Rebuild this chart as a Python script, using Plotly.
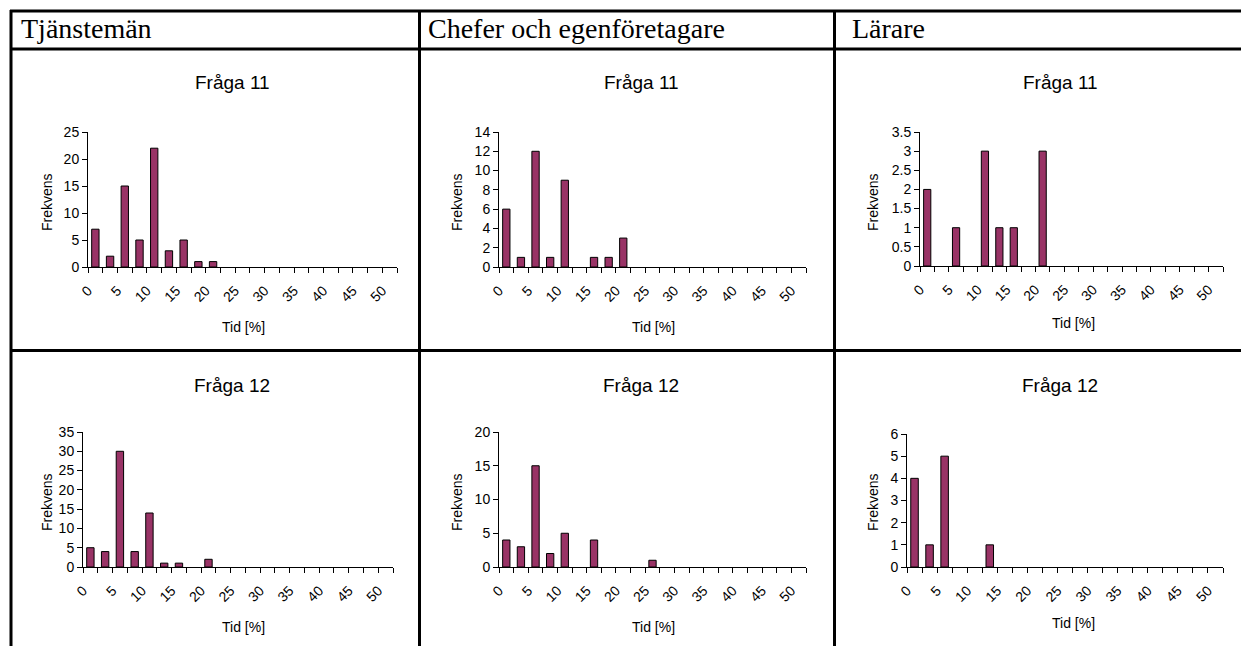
import plotly.graph_objects as go

W, H = 1241, 646

# ---- data ----
categories = [0, 2.5, 5, 7.5, 10, 12.5, 15, 17.5, 20, 22.5, 25, 27.5, 30,
              32.5, 35, 37.5, 40, 42.5, 45, 47.5, 50]
tick_labels = ["0", "5", "10", "15", "20", "25", "30", "35", "40", "45", "50"]

groups = ["Tjänstemän", "Chefer och egenföretagare", "Lärare"]
questions = ["Fråga 11", "Fråga 12"]

tj_f11 = [7, 2, 15, 5, 22, 3, 5, 1, 1, 0, 0, 0, 0, 0, 0, 0, 0, 0, 0, 0, 0]
ch_f11 = [6, 1, 12, 1, 9, 0, 1, 1, 3, 0, 0, 0, 0, 0, 0, 0, 0, 0, 0, 0, 0]
la_f11 = [2, 0, 1, 0, 3, 1, 1, 0, 3, 0, 0, 0, 0, 0, 0, 0, 0, 0, 0, 0, 0]
tj_f12 = [5, 4, 30, 4, 14, 1, 1, 0, 2, 0, 0, 0, 0, 0, 0, 0, 0, 0, 0, 0, 0]
ch_f12 = [4, 3, 15, 2, 5, 0, 4, 0, 0, 0, 1, 0, 0, 0, 0, 0, 0, 0, 0, 0, 0]
la_f12 = [4, 1, 5, 0, 0, 1, 0, 0, 0, 0, 0, 0, 0, 0, 0, 0, 0, 0, 0, 0, 0]

y_max = [25, 14, 3.5, 35, 20, 6]
y_step = [5, 2, 0.5, 5, 5, 1]

series = [tj_f11, ch_f11, la_f11, tj_f12, ch_f12, la_f12]

# ---- layout (pixels) ----
plot_boxes = [  # x0, x1, ytop, ybottom
    (88, 397, 132, 267),
    (499, 806, 132, 267),
    (920, 1223, 132, 266),
    (83, 393, 432, 567),
    (499, 806, 432, 567),
    (907, 1223, 434, 567),
]
title_pos = [(232, 82), (641, 82), (1060, 82), (232, 385), (641, 385), (1060, 385)]
ytitle_pos = [(47, 202), (457, 202), (873, 202), (47, 502), (457, 502), (873, 502)]
xtitle_pos = [(243, 327), (653, 327), (1073, 323), (243, 627), (653, 627), (1073, 623)]

def px(x):
    return x / W

def py(y):
    return 1 - y / H

BAR = "#993366"
SANS = "Liberation Sans, Arial, sans-serif"
SERIF = "Liberation Serif, Times New Roman, serif"

fig = go.Figure()
annotations = []

for i, vals in enumerate(series):
    n = i + 1
    xa = "x" if n == 1 else f"x{n}"
    ya = "y" if n == 1 else f"y{n}"
    xs = [k for k, v in enumerate(vals) if v]
    ys = [v for v in vals if v]
    fig.add_trace(go.Bar(
        x=xs, y=ys, xaxis=xa, yaxis=ya,
        marker=dict(color=BAR, line=dict(color="black", width=1)),
        width=0.5, showlegend=False, hoverinfo="skip",
    ))
    x0, x1, yt, yb = plot_boxes[i]
    xkey = "xaxis" if n == 1 else f"xaxis{n}"
    ykey = "yaxis" if n == 1 else f"yaxis{n}"
    fig.update_layout(**{
        xkey: dict(
            domain=[px(x0), px(x1)], anchor=ya, automargin=False,
            range=[-0.5, len(categories) - 0.5],
            tickmode="array",
            tickvals=[k - 0.5 for k in range(0, len(categories), 2)],
            ticktext=tick_labels,
            tickangle=-45,
            ticks="outside", ticklen=5, tickwidth=1, tickcolor="black",
            minor=dict(ticks="outside", ticklen=5, tickwidth=1, tickcolor="black",
                       tickmode="linear", tick0=-0.5, dtick=1),
            showline=True, linecolor="black", linewidth=1,
            showgrid=False, zeroline=False, fixedrange=True,
            tickfont=dict(family=SANS, size=14, color="black"),
            ticklabelstandoff=4,
        ),
        ykey: dict(
            domain=[py(yb), py(yt)], anchor=xa, automargin=False,
            range=[0, y_max[i]], dtick=y_step[i], tick0=0,
            ticks="outside", ticklen=5, tickwidth=1, tickcolor="black",
            showline=True, linecolor="black", linewidth=1,
            showgrid=False, zeroline=False, fixedrange=True,
            tickfont=dict(family=SANS, size=14, color="black"),
        ),
    })
    tx, ty = title_pos[i]
    annotations.append(dict(text=questions[i // 3], x=px(tx), y=py(ty), xref="paper", yref="paper",
                            showarrow=False, xanchor="center", yanchor="middle",
                            font=dict(family=SANS, size=19, color="black")))
    ax_, ay_ = ytitle_pos[i]
    annotations.append(dict(text="Frekvens", x=px(ax_), y=py(ay_), xref="paper", yref="paper",
                            showarrow=False, xanchor="center", yanchor="middle", textangle=-90,
                            font=dict(family=SANS, size=14, color="black")))
    bx, by = xtitle_pos[i]
    annotations.append(dict(text="Tid [%]", x=px(bx), y=py(by), xref="paper", yref="paper",
                            showarrow=False, xanchor="center", yanchor="middle",
                            font=dict(family=SANS, size=14, color="black")))

# header texts
header_x = [19, 426, 850]
for g, hx in zip(groups, header_x):
    annotations.append(dict(text=g, x=px(hx), y=py(28), xref="paper", yref="paper",
                            showarrow=False, xanchor="left", yanchor="middle",
                            font=dict(family=SERIF, size=28, color="black")))

# table lines
shapes = []
LW = 3
def hline(y, xa, xb):
    shapes.append(dict(type="line", xref="paper", yref="paper", x0=px(xa), x1=px(xb),
                       y0=py(y), y1=py(y), line=dict(color="black", width=LW)))
def vline(x, ya, yb):
    shapes.append(dict(type="line", xref="paper", yref="paper", x0=px(x), x1=px(x),
                       y0=py(ya), y1=py(yb), line=dict(color="black", width=LW)))

hline(11, 10, W + 5)
hline(49, 10, W + 5)
hline(350.5, 10, W + 5)
vline(11, 10, H + 5)
vline(419.5, 10, H + 5)
vline(834.5, 10, H + 5)

fig.update_layout(
    template="none",
    width=W, height=H, margin=dict(l=0, r=0, t=0, b=0, pad=0),
    paper_bgcolor="white", plot_bgcolor="white",
    annotations=annotations, shapes=shapes, bargap=0.5,
)

fig.write_html(
    "out.html",
    config={"displayModeBar": False},
    post_script="document.body.style.margin='0';document.body.style.overflow='hidden';",
)
